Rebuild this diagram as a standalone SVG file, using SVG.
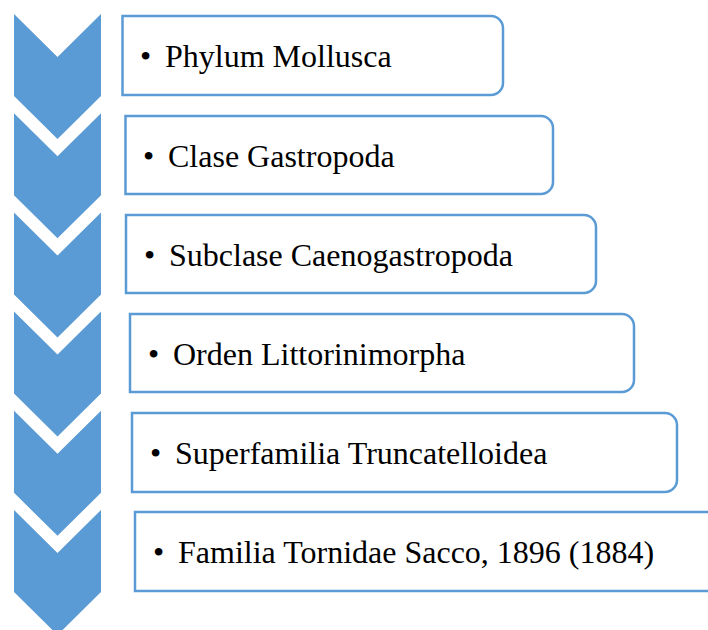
<svg xmlns="http://www.w3.org/2000/svg" width="708" height="630" viewBox="0 0 708 630">
<defs>
<style>
.chev{fill:#5B9BD5;stroke:none}
.box{fill:#FFFFFF;stroke:#5B9BD5;stroke-width:2.5}
.t{font-family:"Liberation Serif","Times New Roman",serif;font-size:32px;fill:#000000}
</style>
<path id="chv" d="M0,0 L43.5,43 L87,0 L87,82 L43.5,125 L0,82 Z"/>
</defs>
<rect width="708" height="630" fill="#FFFFFF"/>
<g id="chevrons">
<use href="#chv" class="chev" x="14" y="14"/>
<use href="#chv" class="chev" x="14" y="113.2"/>
<use href="#chv" class="chev" x="14" y="212.4"/>
<use href="#chv" class="chev" x="14" y="311.6"/>
<use href="#chv" class="chev" x="14" y="410.8"/>
<use href="#chv" class="chev" x="14" y="510"/>
</g>
<g id="node1">
<path class="box" d="M122.5,16 H491 A12,12 0 0 1 503,28 V83 A12,12 0 0 1 491,95 H122.5 Z"/>
<text class="t" y="67"><tspan x="140">•</tspan><tspan x="165">Phylum Mollusca</tspan></text>
</g>
<g id="node2">
<path class="box" d="M125.5,116 H541 A12,12 0 0 1 553,128 V182 A12,12 0 0 1 541,194 H125.5 Z"/>
<text class="t" y="166.5"><tspan x="143">•</tspan><tspan x="168">Clase Gastropoda</tspan></text>
</g>
<g id="node3">
<path class="box" d="M126,215 H584 A12,12 0 0 1 596,227 V281 A12,12 0 0 1 584,293 H126 Z"/>
<text class="t" y="265.5"><tspan x="144">•</tspan><tspan x="169">Subclase Caenogastropoda</tspan></text>
</g>
<g id="node4">
<path class="box" d="M130,314 H622 A12,12 0 0 1 634,326 V380 A12,12 0 0 1 622,392 H130 Z"/>
<text class="t" y="364.5"><tspan x="148">•</tspan><tspan x="173">Orden Littorinimorpha</tspan></text>
</g>
<g id="node5">
<path class="box" d="M132,413 H665 A12,12 0 0 1 677,425 V480 A12,12 0 0 1 665,492 H132 Z"/>
<text class="t" y="463.5"><tspan x="150">•</tspan><tspan x="175">Superfamilia Truncatelloidea</tspan></text>
</g>
<g id="node6">
<path class="box" d="M135,512 H708 A12,12 0 0 1 720,524 V579 A12,12 0 0 1 708,591 H135 Z"/>
<text class="t" y="563"><tspan x="153">•</tspan><tspan x="178">Familia Tornidae Sacco, 1896 (1884)</tspan></text>
</g>
</svg>
